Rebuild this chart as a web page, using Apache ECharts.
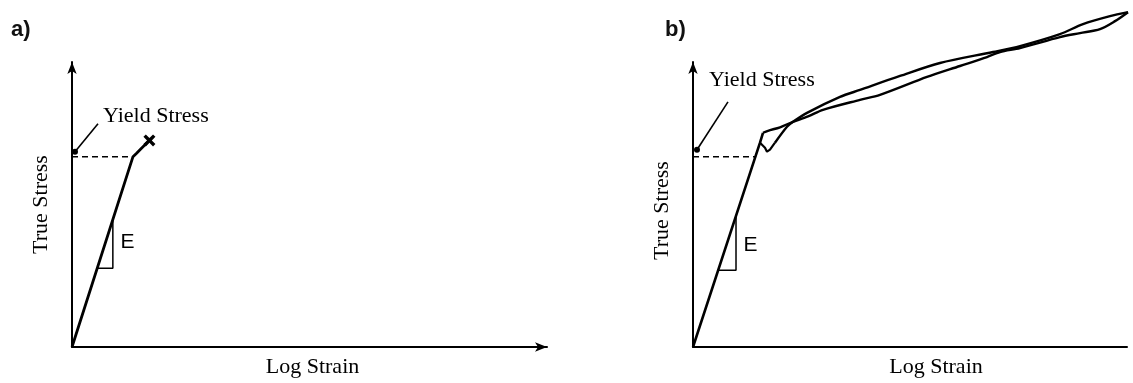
<!DOCTYPE html>
<html>
<head>
<meta charset="utf-8">
<script src="https://cdn.jsdelivr.net/npm/echarts@6/dist/echarts.min.js"></script>
<style>
  html, body { margin: 0; padding: 0; background: #fff; }
  #chart { width: 1133px; height: 383px; }
</style>
</head>
<body>
<div id="chart"></div>
<script>
// Panel a) brittle response: elastic line ending in fracture (x)
const curveA = [[0, 0], [12.84, 66.78], [13.6, 68.0], [14.32, 69.23], [15.16, 70.63], [16.06, 72.13]];
const fractureA = [[16.3, 72.5]];
const yieldLineA = [[0, 66.78], [12.84, 66.78]];
const slopeTriA = [[5.31, 27.6], [8.6, 27.6], [8.6, 44.7]];
const pointerA = [[0.63, 68.53], [5.47, 78.32]];

// Panel b) ductile response: two loading curves with strain hardening
const elasticB = [[0, 0], [15.44, 71.68], [16.13, 75.17]];
const curveB1 = [
  [16.13, 75.17], [17.28, 75.87], [20.05, 77.1], [23.04, 79.02],
  [26.5, 80.9], [29.95, 83.22], [38.48, 86.71], [43.09, 88.46], [53.92, 94.76], [61.52, 98.6],
  [67.74, 101.75], [70.74, 103.5], [75.35, 104.9], [84.56, 108.74], [89.17, 110.14],
  [93.78, 111.54], [97.24, 114.34], [100.23, 117.48]
];
const notchB = [[15.44, 71.68], [16.59, 69.93], [17.05, 68.53], [17.74, 69.23], [18.89, 71.68]];
const curveB2 = [
  [18.89, 71.68], [21.66, 77.27], [23.04, 79.02], [26.27, 82.17], [33.87, 87.76], [38.48, 90.21],
  [47.7, 95.1], [56.91, 99.65], [69.12, 103.5], [75.35, 105.6], [84.56, 109.79],
  [89.86, 113.29], [96.08, 116.08], [100.23, 117.48]
];
const yieldLineB = [[0, 66.78], [14.29, 66.78]];
const slopeTriB = [[5.8, 26.92], [9.91, 26.92], [9.91, 46.0]];
const pointerB = [[0.92, 69.2], [8.06, 86.0]];

// Text anchors (data coordinates) and their strings
const yieldText = 'Yield Stress';
const slopeText = 'E';
const xName = 'Log Strain';
const yName = 'True Stress';
const panelTitles = ['a)', 'b)'];
const slopeLabelA = [[11.8, 36.7]];
const slopeLabelB = [[13.36, 35.7]];

const serif = "'Liberation Serif', 'Times New Roman', serif";
const sans = "'Liberation Sans', Arial, sans-serif";

function axisPair(idx, arrowX) {
  return {
    x: {
      type: 'value', gridIndex: idx, min: 0, max: 100,
      axisLine: { show: true, lineStyle: { color: '#000', width: 2 },
        symbol: arrowX ? ['none', 'arrow'] : ['none', 'none'], symbolSize: [7, 12] },
      axisTick: { show: false }, axisLabel: { show: false }, splitLine: { show: false },
      name: xName, nameLocation: 'middle', nameGap: 9,
      nameTextStyle: { fontFamily: serif, fontSize: 22, color: '#000',
        padding: idx === 1 ? [0, 0, 0, 52] : [0, 0, 0, 6] }
    },
    y: {
      type: 'value', gridIndex: idx, min: 0, max: 100,
      axisLine: { show: true, lineStyle: { color: '#000', width: 2 },
        symbol: ['none', 'arrow'], symbolSize: [7, 12] },
      axisTick: { show: false }, axisLabel: { show: false }, splitLine: { show: false },
      name: yName, nameLocation: 'middle', nameGap: 20,
      nameTextStyle: { fontFamily: serif, fontSize: 22, color: '#000',
        padding: idx === 1 ? [0, 12, 0, 0] : [0, 0, 0, 0] }
    }
  };
}
const axA = axisPair(0, true);
const axB = axisPair(1, false);

function lineSeries(idx, data, opts) {
  return Object.assign({
    type: 'line', xAxisIndex: idx, yAxisIndex: idx, data: data,
    symbol: 'none', clip: false, silent: true, animation: false,
    lineStyle: { color: '#000', width: 2.6 }
  }, opts || {});
}

function pointerSeries(idx, data, offset) {
  return lineSeries(idx, data, {
    lineStyle: { color: '#000', width: 1.6 },
    showSymbol: true, symbol: 'circle', symbolSize: 0,
    data: [
      { value: data[0], symbol: 'circle', symbolSize: 6, itemStyle: { color: '#000' } },
      { value: data[1], symbolSize: 0,
        label: { show: true, formatter: yieldText, position: 'right', offset: offset,
          fontFamily: serif, fontSize: 22, color: '#000' } }
    ]
  });
}

function slopeLabel(idx, data) {
  return {
    type: 'scatter', xAxisIndex: idx, yAxisIndex: idx, data: data, symbolSize: 1,
    silent: true, animation: false, itemStyle: { opacity: 0 },
    label: { show: true, formatter: slopeText, position: 'right', distance: 0, offset: [-8, 0],
      fontFamily: sans, fontSize: 21, color: '#000', opacity: 1 }
  };
}

const chart = echarts.init(document.getElementById('chart'), null, { renderer: 'canvas' });
chart.setOption({
  backgroundColor: '#fff',
  animation: false,
  title: [
    { text: panelTitles[0], left: 6, top: 14, textStyle: { fontFamily: sans, fontSize: 22, fontWeight: 'bold', color: '#111' } },
    { text: panelTitles[1], left: 660, top: 14, textStyle: { fontFamily: sans, fontSize: 22, fontWeight: 'bold', color: '#111' } }
  ],
  grid: [
    { left: 72, right: 586, top: 62, bottom: 35 },
    { left: 693, right: 6, top: 62, bottom: 35 }
  ],
  xAxis: [axA.x, axB.x],
  yAxis: [axA.y, axB.y],
  series: [
    lineSeries(0, curveA, { lineStyle: { color: '#000', width: 2.8 } }),
    {
      type: 'scatter', xAxisIndex: 0, yAxisIndex: 0, data: fractureA, silent: true, animation: false,
      symbol: 'path://M0,2L2,0L5,3L8,0L10,2L7,5L10,8L8,10L5,7L2,10L0,8L3,5Z',
      symbolSize: 12, itemStyle: { color: '#000', opacity: 1 }
    },
    lineSeries(0, yieldLineA, { lineStyle: { color: '#000', width: 1.6, type: [6, 4] } }),
    lineSeries(0, slopeTriA, { lineStyle: { color: '#000', width: 1.5 } }),
    pointerSeries(0, pointerA, [0, -8]),
    slopeLabel(0, slopeLabelA),

    lineSeries(1, elasticB, { lineStyle: { color: '#000', width: 2.6 } }),
    lineSeries(1, curveB1, { smooth: 0.3, lineStyle: { color: '#000', width: 2.4 } }),
    lineSeries(1, notchB, { lineStyle: { color: '#000', width: 2.2 } }),
    lineSeries(1, curveB2, { smooth: 0.3, lineStyle: { color: '#000', width: 2.4 } }),
    lineSeries(1, yieldLineB, { lineStyle: { color: '#000', width: 1.6, type: [6, 4] } }),
    lineSeries(1, slopeTriB, { lineStyle: { color: '#000', width: 1.5 } }),
    pointerSeries(1, pointerB, [-24, -22]),
    slopeLabel(1, slopeLabelB)
  ]
});
</script>
</body>
</html>
